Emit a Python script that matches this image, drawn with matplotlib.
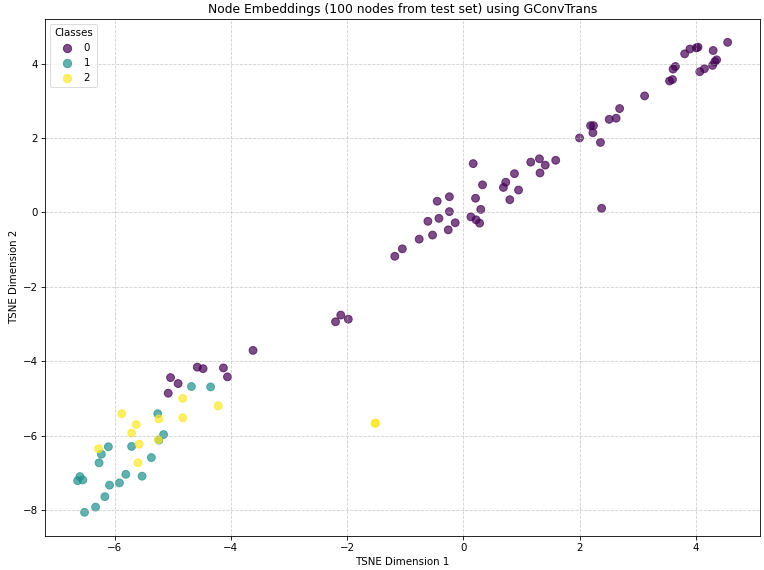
import matplotlib
matplotlib.use("Agg")
import matplotlib.pyplot as plt
import numpy as np

# t-SNE coordinates, grouped by class
X0 = [4.55, 4.30, 4.04, 4.01, 3.90, 3.81, 3.65, 3.61, 4.36, 4.33, 4.29, 4.15, 4.07, 3.60, 3.55,
      3.12, 2.69, 2.63, 2.51, 2.19, 2.24, 2.23, 2.00, 2.36, 2.38,
      0.17, 1.16, 1.31, 1.41, 1.59, 1.32, 0.88, 0.73, 0.69, 0.95, 0.80, 0.33, 0.21, 0.30,
      -0.24, -0.45, -0.24, -0.42, -0.61, -0.14, 0.13, 0.22, 0.28, -0.26, -0.53, -0.76, -1.05, -1.18,
      -2.11, -2.20, -1.98,
      -3.62, -4.58, -4.48, -4.13, -4.06, -5.04, -4.91, -5.08]
Y0 = [4.57, 4.35, 4.44, 4.42, 4.39, 4.26, 3.92, 3.85, 4.10, 4.05, 3.95, 3.86, 3.78, 3.57, 3.53,
      3.13, 2.79, 2.53, 2.50, 2.33, 2.33, 2.14, 2.00, 1.88, 0.11,
      1.31, 1.35, 1.44, 1.27, 1.40, 1.06, 1.04, 0.81, 0.67, 0.60, 0.34, 0.74, 0.38, 0.08,
      0.42, 0.30, 0.02, -0.16, -0.24, -0.28, -0.12, -0.20, -0.29, -0.47, -0.61, -0.72, -0.98, -1.18,
      -2.76, -2.94, -2.87,
      -3.71, -4.16, -4.20, -4.18, -4.42, -4.44, -4.60, -4.86]

X1 = [-4.68, -4.35, -5.26, -5.16, -5.24, -6.11, -5.71, -6.23, -6.27, -5.37,
      -6.60, -6.64, -6.55, -5.81, -5.53, -5.92, -6.09, -6.17, -6.33, -6.52]
Y1 = [-4.68, -4.69, -5.41, -5.97, -6.12, -6.30, -6.29, -6.50, -6.73, -6.59,
      -7.10, -7.21, -7.19, -7.04, -7.09, -7.27, -7.33, -7.64, -7.92, -8.06]

X2 = [-4.83, -4.22, -5.88, -5.24, -4.83, -5.63, -5.71, -5.58, -6.28, -5.25, -5.60, -1.52, -1.51]
Y2 = [-5.00, -5.20, -5.41, -5.55, -5.52, -5.70, -5.93, -6.23, -6.35, -6.11, -6.73, -5.67, -5.66]

xs = np.array(X0 + X1 + X2)
ys = np.array(Y0 + Y1 + Y2)
labels = np.array([0] * len(X0) + [1] * len(X1) + [2] * len(X2))

plt.rcParams.update({
    "axes.linewidth": 0.6,
    "xtick.major.width": 0.6, "ytick.major.width": 0.6,
    "xtick.major.size": 2.6, "ytick.major.size": 2.6,
    "xtick.major.pad": 2.6, "ytick.major.pad": 2.6,
    "axes.titlepad": 4.5, "axes.labelpad": 3.0,
})

fig = plt.figure(figsize=(7.64, 5.7), dpi=100)
ax = fig.add_axes([0.059, 0.060, 0.936, 0.907])
sc = ax.scatter(xs, ys, c=labels, cmap="viridis", s=32, alpha=0.7, linewidths=0.7)
leg = ax.legend(*sc.legend_elements(markersize=4.5), title="Classes", loc="upper left",
                fontsize=7.4, title_fontsize=7.4, borderpad=0.4, labelspacing=0.3,
                handletextpad=0.6)
leg.get_frame().set_linewidth(0.6)
ax.set_title("Node Embeddings (100 nodes from test set) using GConvTrans", fontsize=8.9)
ax.set_xlabel("TSNE Dimension 1", fontsize=7.4)
ax.set_ylabel("TSNE Dimension 2", fontsize=7.4)
ax.tick_params(labelsize=7.4)
ax.grid(True, linestyle="--", alpha=0.6, linewidth=0.6)

fig.savefig("out.png", dpi=100)
